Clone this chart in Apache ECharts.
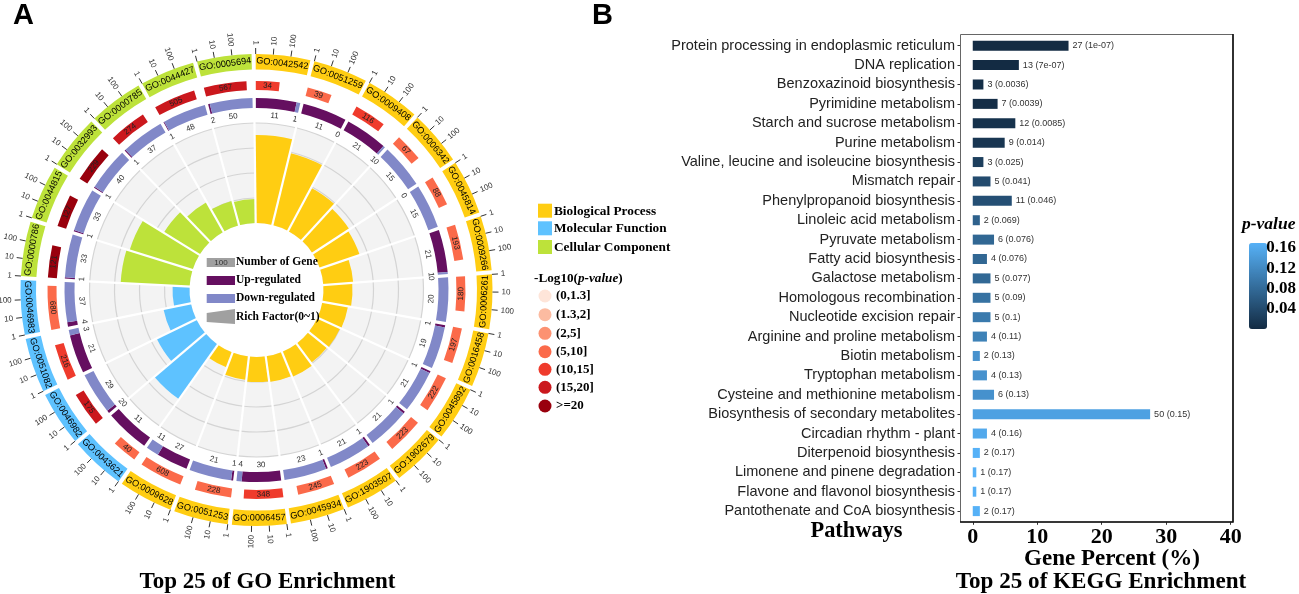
<!DOCTYPE html>
<html><head><meta charset="utf-8">
<style>html,body{margin:0;padding:0;background:#fff}#c{width:1299px;height:594px}</style>
<script src="https://cdn.jsdelivr.net/npm/echarts@6/dist/echarts.min.js"></script>
</head><body><div id="c"></div>
<script>
const goIds=['GO:0042542','GO:0051259','GO:0009408','GO:0006342','GO:0045814','GO:0009266','GO:0006261','GO:0016458','GO:0045892','GO:1902679','GO:1903507','GO:0045934','GO:0006457','GO:0051253','GO:0009628','GO:0043621','GO:0046982','GO:0051082','GO:0046983','GO:0000786','GO:0044815','GO:0032993','GO:0000785','GO:0044427','GO:0005694'];
const goClass=[0,0,0,0,0,0,0,0,0,0,0,0,0,0,0,1,1,1,1,2,2,2,2,2,2];
const geneNumber=[34,39,116,67,88,193,180,197,222,223,223,245,348,228,608,40,175,216,680,121,127,229,274,505,567];
const pBin=[4,3,4,3,3,3,3,3,3,3,3,3,4,3,3,3,5,4,3,6,6,6,5,5,5];
const upCount=[11,11,21,0,0,21,0,1,1,1,1,1,30,1,27,11,2,21,4,1,1,1,1,1,2];
const downCount=[1,0,1,15,15,1,20,19,21,21,21,23,4,21,11,0,29,3,37,33,33,40,37,48,50];
const richFactor=[0.88,0.74,0.49,0.44,0.42,0.30,0.29,0.26,0.25,0.24,0.27,0.26,0.25,0.235,0.16,0.67,0.44,0.28,0.17,0.69,0.66,0.42,0.34,0.255,0.24];
const logTicks=[1,10,100];
const richGrid=[0.25,0.5,0.75,1];
const classNames=['Biological Process','Molecular Function','Cellular Component'];
const classColors=['#FFCD12','#5EC2FF','#BDE23A'];
const binLabels=['(0,1.3]','(1.3,2]','(2,5]','(5,10]','(10,15]','(15,20]','>=20'];
const binColors=['#FEE5D9','#FCBBA1','#FC9272','#FB6A4A','#EF3B2C','#CB181D','#99000D'];

const pathways=['Protein processing in endoplasmic reticulum','DNA replication','Benzoxazinoid biosynthesis','Pyrimidine metabolism','Starch and sucrose metabolism','Purine metabolism','Valine, leucine and isoleucine biosynthesis','Mismatch repair','Phenylpropanoid biosynthesis','Linoleic acid metabolism','Pyruvate metabolism','Fatty acid biosynthesis','Galactose metabolism','Homologous recombination','Nucleotide excision repair','Arginine and proline metabolism','Biotin metabolism','Tryptophan metabolism','Cysteine and methionine metabolism','Biosynthesis of secondary metabolites','Circadian rhythm - plant','Diterpenoid biosynthesis','Limonene and pinene degradation','Flavone and flavonol biosynthesis','Pantothenate and CoA biosynthesis'];
const genePercent=[14.85,7.15,1.65,3.85,6.6,4.95,1.65,2.75,6.05,1.1,3.3,2.2,2.75,2.75,2.75,2.2,1.1,2.2,3.3,27.5,2.2,1.1,0.55,0.55,1.1];
const geneCount=[27,13,3,7,12,9,3,5,11,2,6,4,5,5,5,4,2,4,6,50,4,2,1,1,2];
const pText=['1e-07','7e-07','0.0036','0.0039','0.0085','0.014','0.025','0.041','0.046','0.069','0.076','0.076','0.077','0.09','0.1','0.11','0.13','0.13','0.13','0.15','0.16','0.17','0.17','0.17','0.17'];
const pValue=[1e-7,7e-7,0.0036,0.0039,0.0085,0.014,0.025,0.041,0.046,0.069,0.076,0.076,0.077,0.09,0.1,0.11,0.13,0.13,0.13,0.15,0.16,0.17,0.17,0.17,0.17];
const xTicks=[0,10,20,30,40];
const pTicks=[0.04,0.08,0.12,0.16];

const CX=256.5,CY=290;
const OFFSET=0.2/14.4, SPAN=13.4/14.4, LOGMAX=3.116, GAPMID=0.7/14.4;
const SERIF='"Liberation Serif"', SANS='"Liberation Sans"';
const kStart=k=>k-OFFSET;

function sector(api,ps,r0v,r1v,t0,t1,fill){
  const a=api.coord([r0v,t0]), b=api.coord([r1v,t1]);
  return {type:'sector',shape:{cx:ps.coordSys.cx,cy:ps.coordSys.cy,r0:a[2],r:b[2],startAngle:-a[3],endAngle:-b[3],clockwise:true},style:{fill:fill,stroke:'none',lineWidth:0}};
}
function tangentText(api,ps,rv,t,str,font,fill){
  const p=api.coord([rv,t]);
  const clock=90-p[3]*180/Math.PI;
  const c=((clock%360)+360)%360;
  const upper=c<90||c>270;
  const rot=upper?-c:180-c;
  return {type:'text',x:p[0],y:p[1],rotation:rot*Math.PI/180,style:{text:str,align:'center',verticalAlign:'middle',font:font,fill:fill}};
}
const polarDefs=[[220.5,236],[200,209],[182,192],[67,167]];
const polar=polarDefs.map(r=>({center:[CX,CY],radius:r}));
const angleAxis=polarDefs.map((r,i)=>({polarIndex:i,type:'value',min:0,max:25,startAngle:90,clockwise:true,show:false}));
const radiusAxis=polarDefs.map((r,i)=>({polarIndex:i,type:'value',min:0,max:1,show:false}));

const base={type:'custom',coordinateSystem:'polar',silent:true,animation:false};
const series=[
 Object.assign({},base,{polarIndex:0,data:goIds.map((g,i)=>[1,i]),renderItem(ps,api){
   const k=api.value(1),t0=kStart(k),kids=[];
   kids.push(sector(api,ps,0,1,t0,t0+SPAN,classColors[goClass[k]]));
   kids.push(tangentText(api,ps,0.48,t0+SPAN/2,goIds[k],'9.2px '+SANS,'#000'));
   const unit=15.5;
   logTicks.forEach(v=>{
     const t=t0+Math.log10(v)/LOGMAX*SPAN;
     const p0=api.coord([1,t]),p1=api.coord([1+6/unit,t]),p2=api.coord([1+9/unit,t]);
     kids.push({type:'line',shape:{x1:p0[0],y1:p0[1],x2:p1[0],y2:p1[1]},style:{stroke:'#333',lineWidth:1}});
     const c=((90-p0[3]*180/Math.PI)%360+360)%360, right=c<180;
     const rot=right?90-c:-(c+90);
     kids.push({type:'text',x:p2[0],y:p2[1],rotation:rot*Math.PI/180,style:{text:String(v),align:right?'left':'right',verticalAlign:'middle',font:'8px '+SANS,fill:'#333'}});
   });
   return {type:'group',children:kids};
 }}),
 Object.assign({},base,{polarIndex:1,data:geneNumber.map((n,i)=>[1,i]),renderItem(ps,api){
   const k=api.value(1),t0=kStart(k),t1=t0+Math.log10(geneNumber[k])/LOGMAX*SPAN;
   return {type:'group',children:[
     sector(api,ps,0,1,t0,t1,binColors[pBin[k]]),
     tangentText(api,ps,0.5,(t0+t1)/2,String(geneNumber[k]),'8px '+SANS,'#222')]};
 }}),
 Object.assign({},base,{polarIndex:2,data:upCount.map((n,i)=>[1,i]),renderItem(ps,api){
   const k=api.value(1),t0=kStart(k),u=upCount[k],d=downCount[k];
   const tm=t0+SPAN*u/(u+d),t1=t0+SPAN,kids=[];
   if(u>0)kids.push(sector(api,ps,0,1,t0,tm,'#650F60'));
   if(d>0)kids.push(sector(api,ps,0,1,tm,t1,'#8188C8'));
   const rv=(175-182)/10;
   kids.push(tangentText(api,ps,rv,(t0+tm)/2,String(u),'8px '+SANS,'#333'));
   kids.push(tangentText(api,ps,rv,(tm+t1)/2,String(d),'8px '+SANS,'#333'));
   return {type:'group',children:kids};
 }}),
 Object.assign({},base,{polarIndex:3,z:1,data:richFactor.map((n,i)=>[1,i]),renderItem(ps,api){
   const k=api.value(1),t0=k-GAPMID,kids=[sector(api,ps,0,1,t0,t0+1,'#F3F3F3')];
   richGrid.forEach(g=>{
     kids.push(sector(api,ps,g-0.006,g+0.006,t0,t0+1,'#D4D4D4'));
   });
   return {type:'group',children:kids};
 }}),
 Object.assign({},base,{polarIndex:3,z:2,data:richFactor.map((n,i)=>[n,i]),renderItem(ps,api){
   const k=api.value(1),t0=k-GAPMID;
   return sector(api,ps,0,api.value(0),t0,t0+1,classColors[goClass[k]]);
 }}),
 Object.assign({},base,{polarIndex:3,z:3,data:richFactor.map((n,i)=>[1,i]),renderItem(ps,api){
   const t=api.value(1)-GAPMID,a=api.coord([-0.01,t]),b=api.coord([1.02,t]);
   return {type:'line',shape:{x1:a[0],y1:a[1],x2:b[0],y2:b[1]},style:{stroke:'#fff',lineWidth:2.2}};
 }}),
 {type:'bar',xAxisIndex:0,yAxisIndex:0,barWidth:10,silent:true,animation:false,
  data:genePercent.map((v,i)=>[v,i,pValue[i]]),encode:{x:0,y:1},
  label:{show:true,position:'right',distance:4,fontFamily:'Liberation Sans',fontSize:9,color:'#333',
    formatter:p=>geneCount[p.dataIndex]+' ('+pText[p.dataIndex]+')'}}
];

const g=[];
function txt(x,y,s,font,fill,align){g.push({type:'text',x:x,y:y,z:100,silent:true,style:{text:s,font:font,fill:fill||'#000',align:align||'left',verticalAlign:'middle'}});}
function rect(x,y,w,h,fill){g.push({type:'rect',silent:true,z:100,shape:{x,y,width:w,height:h},style:{fill}});}
txt(13,16,'A','bold 29px '+SANS);
txt(592,16,'B','bold 29px '+SANS);
txt(267.5,582,'Top 25 of GO Enrichment','bold 23px '+SERIF,'#000','center');
txt(1101,582,'Top 25 of KEGG Enrichment','bold 23.1px '+SERIF,'#000','center');
txt(1112,559,'Gene Percent (%)','bold 23px '+SERIF,'#000','center');
txt(856.5,531,'Pathways','bold 22.4px '+SERIF,'#000','center');
rect(206.7,258,28.3,9,'#A0A0A0'); txt(221,262.8,'100','8px '+SANS,'#333','center');
rect(206.7,276,28.3,9,'#650F60');
rect(206.7,294,28.3,9,'#8188C8');
g.push({type:'polygon',silent:true,z:100,shape:{points:[[206.7,313],[235,309],[235,324],[206.7,322]]},style:{fill:'#A0A0A0'}});
const cLeg=['Number of Gene','Up-regulated','Down-regulated','Rich Factor(0~1)'];
[262.5,280.5,298.5,317].forEach((y,i)=>txt(236,y,cLeg[i],'bold 11.5px '+SERIF));
[210.7,228.3,247].forEach((y,i)=>{rect(538,y-7,14,14,classColors[i]);txt(554,y+0.5,classNames[i],'bold 13.3px '+SERIF);});
g.push({type:'text',silent:true,z:100,x:534,y:279,style:{rich:{a:{font:'bold 13.2px '+SERIF,fill:'#000'},b:{font:'italic bold 13.2px '+SERIF,fill:'#000'}},text:'{a|-Log10(}{b|p-value}{a|)}',verticalAlign:'middle'}});
[296,314.7,333.3,351.7,369.3,387.3,406].forEach((y,i)=>{
  g.push({type:'circle',silent:true,shape:{cx:545,cy:y,r:6.5},style:{fill:binColors[i]}});
  txt(556,y,binLabels[i],'bold 13px '+SERIF);
});
g.push({type:'rect',silent:true,z:10,shape:{x:960.5,y:34.5,width:272.5,height:487.5},style:{fill:null,stroke:'#666',lineWidth:1}});
g.push({type:'polyline',silent:true,z:11,shape:{points:[[960,522],[1233,522],[1233,34]]},style:{fill:null,stroke:'#111',lineWidth:1.6}});
txt(1242,224,'p-value','italic bold 17.5px '+SERIF);

const option={
  animation:false,backgroundColor:'#fff',
  polar,angleAxis,radiusAxis,
  grid:[{left:960.5,width:272.5,top:36,height:484.8},{left:1249,width:18,top:243,height:86}],
  xAxis:[
   {gridIndex:0,type:'value',min:-1.9,max:40.35,splitLine:{show:false},axisLine:{show:false},offset:1,
    axisTick:{show:true,customValues:xTicks,length:3,lineStyle:{color:'#333'}},
    axisLabel:{customValues:xTicks,fontFamily:'Liberation Serif',fontWeight:'bold',fontSize:22,color:'#000',margin:5}},
   {gridIndex:1,type:'value',show:false,min:0,max:1}],
  yAxis:[
   {gridIndex:0,type:'category',inverse:true,data:pathways,axisLine:{show:false,onZero:false},axisTick:{show:true,alignWithLabel:true,length:3,lineStyle:{color:'#333'}},
    axisLabel:{fontFamily:'Liberation Sans',fontSize:14.5,color:'#222',margin:5.5,interval:0}},
   {gridIndex:1,type:'value',position:'right',min:0,max:0.17,z:10,splitLine:{show:false},axisLine:{show:false},
    axisTick:{show:true,inside:true,length:3,customValues:pTicks,lineStyle:{color:'#fff',width:0.7}},
    axisLabel:{customValues:pTicks,formatter:v=>v.toFixed(2),fontFamily:'Liberation Serif',fontWeight:'bold',fontSize:17,color:'#000',margin:3,padding:[0,0,0,3]}}],
  visualMap:{type:'continuous',seriesIndex:6,dimension:2,min:0,max:0.17,inRange:{color:['#132B43','#56B1F7']},
    left:1249,top:243,itemWidth:18,itemHeight:86,padding:0,text:null,calculable:false,hoverLink:false,realtime:false},
  graphic:{elements:g},
  series
};
const chart=echarts.init(document.getElementById('c'),null,{renderer:'canvas'});
chart.setOption(option);
</script></body></html>
